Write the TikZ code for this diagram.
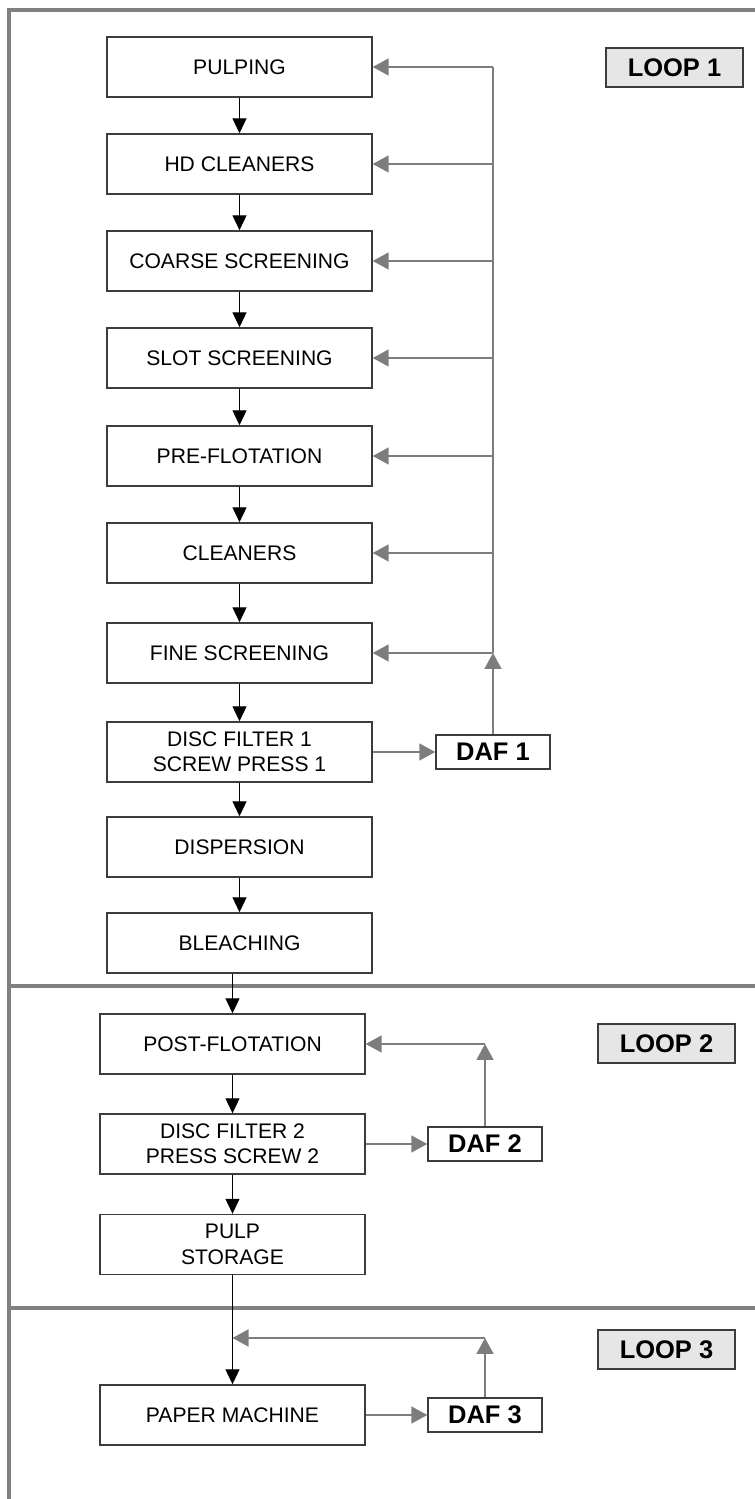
\documentclass[tikz,border=0pt]{standalone}
\usepackage{fontspec}
\setmainfont{Liberation Sans}
\usetikzlibrary{arrows.meta,positioning,calc}

\definecolor{framegray}{RGB}{128,128,128}
\definecolor{backgray}{RGB}{125,125,125}
\definecolor{edgegray}{RGB}{60,60,60}
\definecolor{labelfill}{RGB}{230,230,230}

\begin{document}
\begin{tikzpicture}[
    font=\fontsize{12}{14.5}\selectfont,
    pbox/.style={rectangle, draw=edgegray, line width=0.8pt, minimum width=5.3cm, minimum height=1.2cm, inner sep=2pt, align=center},
    dafbox/.style={rectangle, draw=edgegray, line width=0.8pt, minimum width=2.28cm, minimum height=0.68cm, inner sep=1pt, font=\fontsize{14.5}{16}\selectfont\bfseries},
    loopbox/.style={rectangle, draw=edgegray, fill=labelfill, line width=0.8pt, minimum width=2.74cm, minimum height=0.78cm, inner sep=1pt, font=\fontsize{14.5}{16}\selectfont\bfseries},
    flow/.style={-{Triangle[length=0.3cm,width=0.28cm]}, line width=0.6pt, black},
    back/.style={-{Triangle[length=0.32cm,width=0.34cm]}, line width=0.9pt, backgray},
    backline/.style={line width=0.9pt, backgray},
    sepline/.style={line width=2.8pt, framegray}
]
    \useasboundingbox (0,0) rectangle (15.1,29.98);
    % frame and loop borders
    \draw[sepline] (0.18,0) -- (0.18,29.78) -- (15.2,29.78);
    \draw[sepline] (0.18,10.26) -- (15.2,10.26);
    \draw[sepline] (0.18,3.82) -- (15.2,3.82);
    % loop 1
    \node[pbox] (pulp) at (4.79,28.64) {PULPING};
    \node[pbox] (hdc) at (4.79,26.70) {HD CLEANERS};
    \node[pbox] (coarse) at (4.79,24.76) {COARSE SCREENING};
    \node[pbox] (slot) at (4.79,22.82) {SLOT SCREENING};
    \node[pbox] (pref) at (4.79,20.86) {PRE-FLOTATION};
    \node[pbox] (clean) at (4.79,18.92) {CLEANERS};
    \node[pbox] (fine) at (4.79,16.92) {FINE SCREENING};
    \node[pbox] (disc1) at (4.79,14.94) {DISC FILTER 1\\SCREW PRESS 1};
    \node[pbox] (disp) at (4.79,13.04) {DISPERSION};
    \node[pbox] (bleach) at (4.79,11.12) {BLEACHING};
    \node[dafbox] (daf1) at (9.86,14.94) {DAF 1};
    \node[loopbox] (loop1) at (13.49,28.63) {LOOP 1};
    \draw[flow] (pulp) -- (hdc);
    \draw[flow] (hdc) -- (coarse);
    \draw[flow] (coarse) -- (slot);
    \draw[flow] (slot) -- (pref);
    \draw[flow] (pref) -- (clean);
    \draw[flow] (clean) -- (fine);
    \draw[flow] (fine) -- (disc1);
    \draw[flow] (disc1) -- (disp);
    \draw[flow] (disp) -- (bleach);
    \draw[back] (disc1) -- (daf1);
    \coordinate (ret1) at (daf1 |- fine);
    \draw[back] (daf1) -- (ret1);
    \draw[backline] (ret1) -- (daf1 |- pulp);
    \draw[back] (ret1) -- (fine);
    \draw[back] (daf1 |- clean) -- (clean);
    \draw[back] (daf1 |- pref) -- (pref);
    \draw[back] (daf1 |- slot) -- (slot);
    \draw[back] (daf1 |- coarse) -- (coarse);
    \draw[back] (daf1 |- hdc) -- (hdc);
    \draw[back] (daf1 |- pulp) -- (pulp);
    % loop 2
    \node[pbox] (post) at (4.65,9.10) {POST-FLOTATION};
    \node[pbox] (disc2) at (4.65,7.10) {DISC FILTER 2\\PRESS SCREW 2};
    \node[pbox] (store) at (4.65,5.09) {PULP\\STORAGE};
    \node[dafbox] (daf2) at (9.70,7.10) {DAF 2};
    \node[loopbox] (loop2) at (13.33,9.11) {LOOP 2};
    \draw[flow] (post |- bleach.south) -- (post);
    \draw[flow] (post) -- (disc2);
    \draw[flow] (disc2) -- (store);
    \draw[back] (disc2) -- (daf2);
    \coordinate (ret2) at (daf2 |- post);
    \draw[back] (daf2) -- (ret2);
    \draw[back] (ret2) -- (post);
    % loop 3
    \node[pbox] (paper) at (4.65,1.68) {PAPER MACHINE};
    \node[dafbox] (daf3) at (9.70,1.68) {DAF 3};
    \node[loopbox] (loop3) at (13.33,2.99) {LOOP 3};
    \draw[flow] (store) -- (paper);
    \draw[back] (paper) -- (daf3);
    \coordinate (ret3) at (9.70,3.22);
    \draw[back] (daf3) -- (ret3);
    \draw[back] (ret3) -- (paper |- ret3);
\end{tikzpicture}
\end{document}
